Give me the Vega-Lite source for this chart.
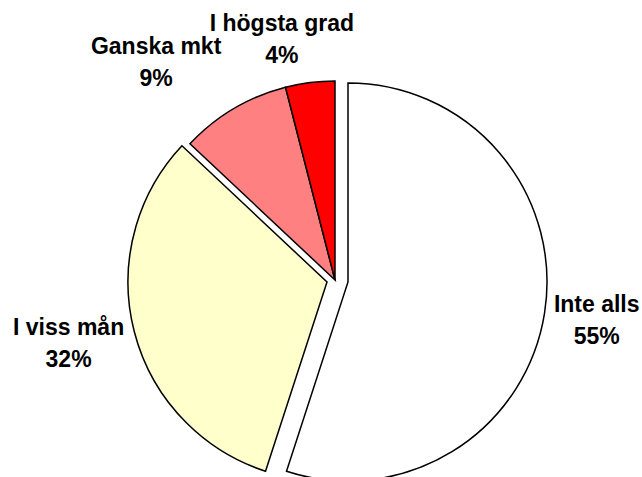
{
  "$schema": "https://vega.github.io/schema/vega-lite/v6.json",
  "autosize": "none",
  "width": 614,
  "height": 394,
  "padding": {"left": 28, "top": 83, "right": 0, "bottom": 0},
  "background": "white",
  "view": {"stroke": null},
  "data": {
    "values": [
      {"idx": 1, "cat": "Inte alls", "pct": 55, "label": "Inte alls\n55%"},
      {"idx": 2, "cat": "I viss mån", "pct": 32, "label": "I viss mån\n32%"},
      {"idx": 3, "cat": "Ganska mkt", "pct": 9, "label": "Ganska mkt\n9%"},
      {"idx": 4, "cat": "I högsta grad", "pct": 4, "label": "I högsta grad\n4%"}
    ]
  },
  "encoding": {
    "theta": {"field": "pct", "type": "quantitative", "stack": true},
    "order": {"field": "idx", "type": "quantitative", "sort": "ascending"},
    "color": {
      "field": "cat",
      "type": "nominal",
      "scale": {
        "domain": ["Inte alls", "I viss mån", "Ganska mkt", "I högsta grad"],
        "range": ["#FFFFFF", "#FFFFCC", "#FF8080", "#FF0000"]
      },
      "legend": null
    }
  },
  "layer": [
    {
      "mark": {"type": "arc", "radius": 199, "stroke": "#000000", "strokeWidth": 1.5},
      "encoding": {
        "opacity": {"condition": {"test": "datum.cat === 'Ganska mkt' || datum.cat === 'I högsta grad'", "value": 1}, "value": 0}
      }
    },
    {
      "mark": {"type": "arc", "radius": 199, "stroke": "#000000", "strokeWidth": 1.5, "xOffset": 13, "yOffset": 2},
      "encoding": {
        "opacity": {"condition": {"test": "datum.cat === 'Inte alls'", "value": 1}, "value": 0}
      }
    },
    {
      "mark": {"type": "arc", "radius": 199, "stroke": "#000000", "strokeWidth": 1.5, "xOffset": -8, "yOffset": 2},
      "encoding": {
        "opacity": {"condition": {"test": "datum.cat === 'I viss mån'", "value": 1}, "value": 0}
      }
    },
    {
      "mark": {"type": "text", "radius": 265, "dy": -16, "font": "Liberation Sans", "fontWeight": "bold", "fontSize": 23, "lineHeight": 32, "lineBreak": "\n", "align": "center", "baseline": "middle"},
      "encoding": {
        "text": {"field": "label"},
        "color": {"value": "#000000"},
        "opacity": {"condition": {"test": "datum.cat === 'Inte alls'", "value": 1}, "value": 0}
      }
    },
    {
      "mark": {"type": "text", "radius": 273, "dy": -20, "dx": -2, "font": "Liberation Sans", "fontWeight": "bold", "fontSize": 23, "lineHeight": 32, "lineBreak": "\n", "align": "center", "baseline": "middle"},
      "encoding": {
        "text": {"field": "label"},
        "color": {"value": "#000000"},
        "opacity": {"condition": {"test": "datum.cat === 'I viss mån'", "value": 1}, "value": 0}
      }
    },
    {
      "mark": {"type": "text", "radius": 265, "dx": -44, "dy": -5, "font": "Liberation Sans", "fontWeight": "bold", "fontSize": 23, "lineHeight": 32, "lineBreak": "\n", "align": "center", "baseline": "middle"},
      "encoding": {
        "text": {"field": "label"},
        "color": {"value": "#000000"},
        "opacity": {"condition": {"test": "datum.cat === 'Ganska mkt'", "value": 1}, "value": 0}
      }
    },
    {
      "mark": {"type": "text", "radius": 240, "dx": -23, "dy": -18, "font": "Liberation Sans", "fontWeight": "bold", "fontSize": 23, "lineHeight": 32, "lineBreak": "\n", "align": "center", "baseline": "middle"},
      "encoding": {
        "text": {"field": "label"},
        "color": {"value": "#000000"},
        "opacity": {"condition": {"test": "datum.cat === 'I högsta grad'", "value": 1}, "value": 0}
      }
    }
  ]
}
